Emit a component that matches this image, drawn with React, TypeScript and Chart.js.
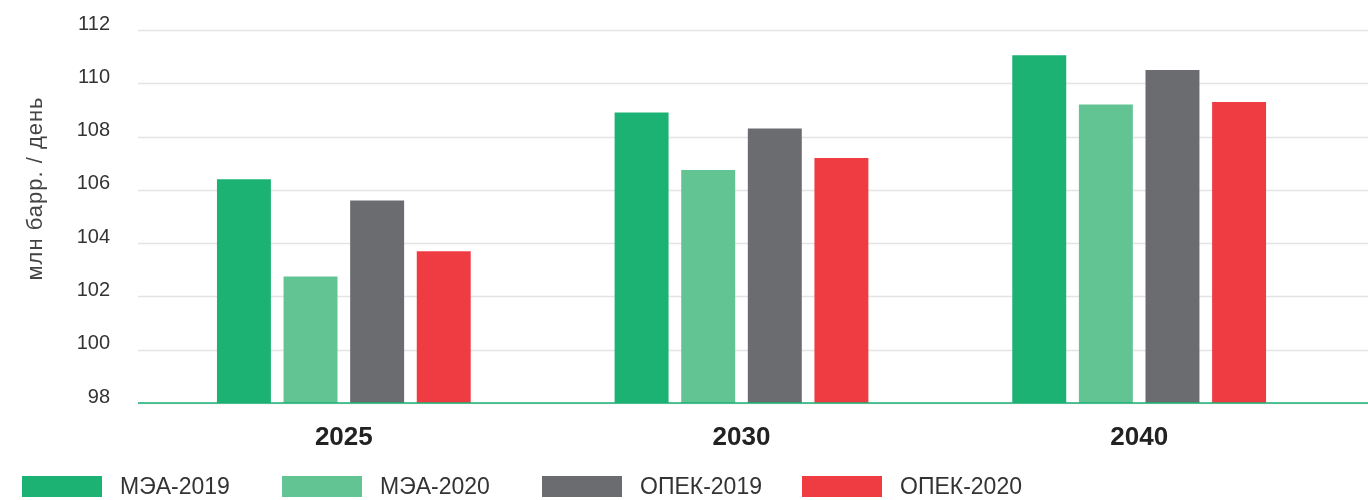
import React, { useEffect, useRef } from "react";
import { Chart, registerables } from "chart.js";

Chart.register(...registerables);

const categories = ["2025", "2030", "2040"];
const seriesNames = ["МЭА-2019", "МЭА-2020", "ОПЕК-2019", "ОПЕК-2020"];
const iea2019 = [106.4, 108.9, 111.05];
const iea2020 = [102.75, 106.75, 109.2];
const opec2019 = [105.6, 108.3, 110.5];
const opec2020 = [103.7, 107.2, 109.3];
const seriesColors = ["#1bb273", "#62c393", "#6b6c70", "#ef3c43"];
const yTitle = "млн барр. / день";
const yMin = 98;
const yMax = 112;
const yStep = 2;

const FONT = "'Liberation Sans', Arial, Helvetica, sans-serif";

const gridPlugin = {
  id: "customGrid",
  beforeDatasetsDraw(chart: any) {
    const { ctx, scales, width } = chart;
    const y = scales.y;
    ctx.save();
    ctx.strokeStyle = "#e4e4e4";
    ctx.lineWidth = 1.5;
    for (let v = yMin; v <= yMax; v += yStep) {
      const py = Math.round(y.getPixelForValue(v)) + 0.5;
      ctx.beginPath();
      ctx.moveTo(138, py);
      ctx.lineTo(width, py);
      ctx.stroke();
    }
    ctx.restore();
  },
  afterDatasetsDraw(chart: any) {
    const { ctx, scales, width } = chart;
    const py = scales.y.getPixelForValue(yMin);
    ctx.save();
    ctx.strokeStyle = "#1ab172";
    ctx.lineWidth = 1.5;
    ctx.beginPath();
    ctx.moveTo(138, py);
    ctx.lineTo(width, py);
    ctx.stroke();
    ctx.restore();
  },
  afterDraw(chart: any) {
    const { ctx, scales } = chart;
    const y = scales.y;
    ctx.save();
    // y title
    ctx.translate(36, (y.top + y.bottom) / 2 - 28);
    ctx.rotate(-Math.PI / 2);
    ctx.font = `22px ${FONT}`;
    (ctx as any).letterSpacing = "1px";
    ctx.fillStyle = "#444";
    ctx.textAlign = "center";
    ctx.textBaseline = "middle";
    ctx.fillText(yTitle, 0, 0);
    ctx.restore();
    // legend
    ctx.save();
    ctx.font = `23px ${FONT}`;
    ctx.textBaseline = "middle";
    ctx.textAlign = "left";
    seriesNames.forEach((name, i) => {
      const x = 22 + i * 260;
      ctx.fillStyle = seriesColors[i];
      ctx.fillRect(x, 476, 80, 21);
      ctx.fillStyle = "#333";
      ctx.fillText(name, x + 98, 488);
    });
    ctx.restore();
  },
};

export default function App() {
  const ref = useRef<HTMLCanvasElement | null>(null);
  useEffect(() => {
    document.body.style.margin = "0";
    if (!ref.current) return;
    const data = [iea2019, iea2020, opec2019, opec2020];
    const chart = new Chart(ref.current, {
      type: "bar",
      data: {
        labels: categories,
        datasets: seriesNames.map((name, i) => ({
          label: name,
          data: data[i],
          backgroundColor: seriesColors[i],
          borderWidth: 0,
          categoryPercentage: 0.67,
          barPercentage: 0.81,
        })),
      },
      options: {
        animation: false,
        responsive: false,
        devicePixelRatio: 1,
        layout: { padding: { left: 0, right: 30, top: 30, bottom: 0 } },
        plugins: {
          legend: { display: false },
          tooltip: { enabled: false },
          title: { display: false },
        },
        scales: {
          x: {
            grid: { display: false, drawTicks: false },
            border: { display: false },
            ticks: {
              padding: 19,
              color: "#222",
              font: { family: FONT, size: 26, weight: "bold" },
            },
            afterFit(scale: any) {
              scale.height = 97;
              scale.paddingLeft = 0;
              scale.paddingRight = 0;
            },
          },
          y: {
            min: yMin,
            max: yMax,
            grid: { display: false, drawTicks: false },
            border: { display: false },
            ticks: {
              stepSize: yStep,
              padding: 35,
              labelOffset: -6,
              color: "#333",
              font: { family: FONT, size: 20 },
            },
            afterFit(scale: any) {
              scale.width = 145;
              scale.paddingTop = 0;
              scale.paddingBottom = 0;
            },
          },
        },
      },
      plugins: [gridPlugin],
    });
    return () => chart.destroy();
  }, []);
  return (
    <div style={{ width: 1368, height: 500 }}>
      <canvas ref={ref} width={1368} height={500} style={{ display: "block" }} />
    </div>
  );
}
